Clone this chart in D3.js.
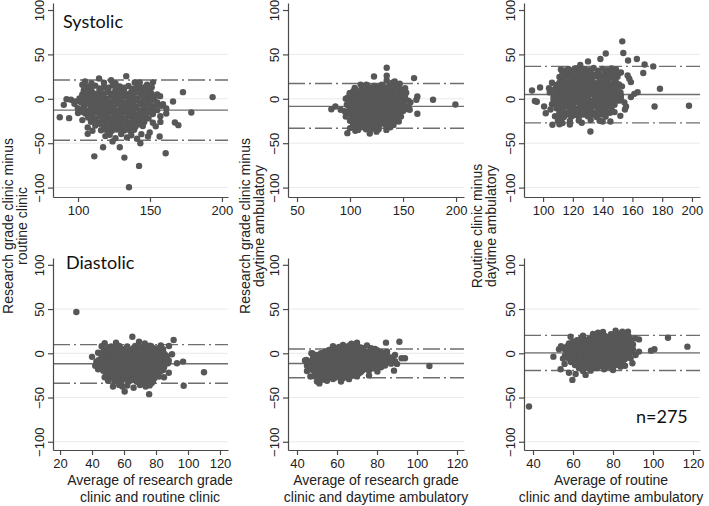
<!DOCTYPE html>
<html><head><meta charset="utf-8">
<script src="https://cdn.jsdelivr.net/npm/d3@7"></script>
<style>body{margin:0;background:#fff}svg{display:block}</style>
</head><body>
<svg id="c" width="709" height="506"></svg>
<script>
// ---------- DATA ----------
const yTicks = [-100, -50, 0, 50, 100];
const gridTicks = [-100, -50, 0, 50];
const xTicksSysRC = [100, 150, 200];
const xTicksSysRD = [50, 100, 150, 200];
const xTicksSysRoD = [100, 120, 140, 160, 180, 200];
const xTicksDiaRC = [20, 40, 60, 80, 100, 120];
const xTicksDiaRD = [40, 60, 80, 100, 120];
const xTicksDiaRoD = [40, 60, 80, 100, 120];

// [mean difference, lower limit, upper limit]
const statsSysRC = [-12.8, -46.6, 21.1];
const statsSysRD = [-8.5, -33.2, 17.3];
const statsSysRoD = [4.8, -27.1, 36.5];
const statsDiaRC = [-11.8, -33.8, 9.8];
const statsDiaRD = [-11.5, -27.6, 4.9];
const statsDiaRoD = [0.5, -19.5, 20.3];

const panelLabels = ["Systolic", "Diastolic"];
const nLabel = "n=275";
const yTitles = [["Research grade clinic minus", "routine clinic"],
                 ["Research grade clinic minus", "daytime ambulatory"],
                 ["Routine clinic minus", "daytime ambulatory"]];
const xTitles = [["Average of research grade", "clinic and routine clinic"],
                 ["Average of research grade", "clinic and daytime ambulatory"],
                 ["Average of routine", "clinic and daytime ambulatory"]];

// points [average, difference]
const sysRC = [
[133.5,25.5],[114.6,22.9],[172.9,7.5],[193.5,1.9],[166,-3],[178.7,-15.4],[87.3,-20.7],[93.8,-21.8],[90.1,-6.8],[92,-0.4],
[167.3,-26.7],[169.7,-29.7],[160.9,-61.3],[156.7,-42.5],[142.4,-75.6],[135.4,-99.7],[132.2,-66.2],[111.3,-64.8],[117.4,-54.5],[129,-54.5],
[143.3,-50],[124,-48],[106.7,-39.5],[106.7,-32.4],[116,-35.5],[152.1,18.8],[139.4,18.4],[142.9,18.4],[151.2,13],[103,15.8],
[109.3,17.6],[161.3,-10.9],[161.3,-16.5],[157.2,-19.7],[157.2,-26],[152,-27],[149.8,-38],[148.6,-42.5],[136.2,-36],[123.5,-36],
[95.1,-1.1],[97.5,-5.6],[99.8,-10.5],[123,21],[130,12],
[104.9,19.6],[118,18],[126,17.5],[148,16],[157,3],[159,-6],[100,-16],[98,-3],[103,-24],[154,-31],[119,-42],[141,-45],[110,-36],
[106,13.5],[112,14.8],[118,13],[124,15.2],[129,13.8],[135,14.5],[141,12.8],[147,13.6],
[104,9.5],[109,10.8],[115,9.2],[121,10.4],[126,9.6],[132,11],[138,9.8],[144,10.2],[150,9.1],
[103,5],[107,6.2],[112,5.1],[118,6],[123,5.4],[128,6.5],[134,5.2],[139,5.9],[145,4.8],[151,6.1],[155,5],
[101,0.5],[105,1.6],[110,0.8],[115,1.4],[120,0.2],[125,1.8],[130,0.6],[136,1.2],[141,0.4],[147,1.5],[153,0.9],
[102,-3.8],[107,-2.9],[112,-4.1],[117,-3.2],[122,-3.9],[127,-2.8],[133,-4.2],[138,-3.3],[144,-3.7],[149,-2.6],[155,-4],
[104,-7.6],[109,-8.4],[114,-7.3],[119,-8.6],[124,-7.8],[130,-8.2],[135,-7.5],[140,-8.8],[146,-7.7],[152,-8.3],[158,-7.9],
[102,-12.2],[107,-13],[112,-12.1],[117,-12.9],[122,-12.4],[127,-13.2],[132,-12],[137,-12.7],[143,-13.1],[149,-12.3],[155,-12.8],
[105,-16.6],[110,-17.4],[115,-16.8],[120,-17.6],[125,-16.5],[130,-17.2],[135,-16.9],[141,-17.5],[147,-16.7],[152,-17.1],
[107,-21.2],[112,-22],[117,-21.3],[122,-21.9],[128,-21.1],[133,-22.2],[138,-21.6],[144,-21.4],[149,-22.1],
[109,-25.8],[114,-26.5],[119,-25.6],[125,-26.3],[130,-25.9],[136,-26.7],[141,-25.7],[146,-26.2],
[112,-30.2],[118,-31],[124,-30.4],[129,-30.9],[134,-30.1],[140,-31.2],[145,-30.6],
[120,-35.3],[127,-34.6],[132,-35.8],[139,-34.9],
[122,-40.5],[130,-39.6],[137,-41],[144,-39.8],
[126,-44.3],[134,-43.6],
[109,12.2],[115,11.6],[121,12.4],[127,11.8],[132,12.6],[138,11.5],[144,12.1],
[106,7.8],[110,7.2],[115,7.9],[121,7.3],[126,8],[131,7.1],[137,7.7],[142,7.4],[148,7.9],
[103,3.2],[108,2.6],[113,3.4],[117,2.8],[123,3.3],[128,2.5],[133,3.1],[138,2.7],[144,3.5],[150,2.9],
[104,-1.2],[109,-1.8],[114,-1.1],[119,-1.7],[125,-1.3],[130,-2],[135,-1.4],[141,-1.9],[146,-1.2],[151,-1.6],
[106,-5.7],[111,-6.3],[116,-5.8],[121,-6.2],[127,-5.6],[132,-6.4],[138,-5.9],[143,-6.1],[149,-5.5],[155,-6.2],
[104,-10.2],[110,-10.8],[115,-10.3],[120,-10.9],[125,-10.1],[130,-10.7],[135,-10.4],[140,-10.9],[146,-10.2],[152,-10.6],
[103,-14.7],[108,-15.3],[113,-14.8],[118,-15.2],[123,-14.6],[128,-15.4],[133,-14.9],[138,-15.1],[144,-14.5],[150,-15.2],
[109,-19.2],[115,-19.8],[120,-19.3],[125,-19.9],[130,-19.1],[135,-19.7],[141,-19.4],[146,-19.8],
[111,-23.7],[117,-24.3],[122,-23.8],[128,-24.2],[133,-23.6],[139,-24.4],[144,-23.9],
[115,-28.2],[121,-28.8],[127,-28.3],[132,-28.7],[137,-28.1],[143,-28.6],
[123,-32.7],[130,-33.3],[136,-32.8]
];

const sysRD = [
[134.6,35],[134.6,26],[122.6,25.2],[160.4,23.3],[134.6,20.7],[115.4,15.8],[104.4,12.1],[82.4,-11.7],[86.2,-8.7],[91.2,-12.4],
[178.3,-1.1],[199.4,-6.5],[163.5,2.6],[162.6,-1.1],[163.5,-16.9],[155.3,-8.7],[156.3,-12.4],[151.8,2.6],[152.4,-1.1],[97.5,-38.7],
[118.6,-39],[107.6,-35],[102.9,-29.3],[134.3,-35],[146,-25.6],[99.7,-8.7],[99.7,6.3],[142.2,19.5],[146.9,16.9],[128.7,14.5],
[96,0],[95,-14],[96,-20],[100,-33],[138,-32],[148,-20],[152,12],[110,16],[140,18],[157,-4],[105,-36],[125,-37],
[116,15.3],[123,14.6],[130,15.8],[137,14.9],[144,15.4],
[105,10.6],[111,11.5],[117,10.8],[123,11.3],[129,10.5],[135,11.6],[141,10.9],[147,11.2],
[100,6.2],[106,7],[112,6.1],[118,6.8],[124,6.3],[130,7.1],[136,6],[142,6.7],[148,6.4],[153,6.9],
[98,1.6],[104,2.5],[110,1.8],[116,2.3],[122,1.5],[128,2.4],[134,1.7],[140,2.6],[146,1.9],[151,2.2],
[101,-2.2],[107,-3],[113,-2.3],[119,-2.9],[125,-2.1],[131,-2.8],[137,-2.4],[143,-3.1],[149,-2.6],[155,-2],
[97,-6.7],[103,-7.4],[109,-6.8],[115,-7.2],[121,-6.6],[127,-7.5],[133,-6.9],[139,-7.3],[145,-6.5],[151,-7.1],
[100,-11.1],[106,-11.9],[112,-11.3],[118,-11.8],[124,-11.2],[130,-12],[136,-11.4],[142,-11.7],[148,-11],[154,-11.6],
[99,-15.7],[105,-16.4],[111,-15.8],[117,-16.3],[123,-15.6],[129,-16.5],[135,-15.9],[141,-16.2],[147,-15.5],
[102,-20.2],[108,-20.9],[114,-20.3],[120,-20.8],[126,-20.1],[132,-21],[138,-20.4],[144,-20.6],
[100,-24.7],[106,-25.4],[112,-24.8],[118,-25.3],[124,-24.6],[130,-25.5],[136,-24.9],[143,-25.2],
[104,-29.2],[110,-30],[116,-29.3],[122,-29.8],[128,-29.1],[134,-30.1],[141,-29.4],
[108,-33.7],[115,-34.4],[121,-33.8],[127,-34.2],
[113,13.2],[120,12.7],[127,13.4],[133,12.8],[140,13.3],
[103,8.7],[109,8.2],[115,8.9],[121,8.3],[127,8.8],[133,8.1],[139,8.6],[145,8.3],[150,8.8],
[101,4.2],[107,3.7],[113,4.3],[119,3.8],[125,4.4],[131,3.6],[137,4.1],[143,3.9],[149,4.3],
[104,-0.3],[110,-0.9],[116,-0.4],[122,-0.8],[128,-0.2],[134,-1],[140,-0.5],[146,-0.7],[152,-0.2],
[100,-4.8],[106,-5.3],[112,-4.7],[118,-5.2],[124,-4.9],[130,-5.4],[136,-4.8],[142,-5.1],[148,-4.6],
[103,-9.3],[109,-9.8],[115,-9.2],[121,-9.7],[127,-9.4],[133,-9.9],[139,-9.3],[145,-9.6],[151,-9.1],
[102,-13.8],[108,-14.3],[114,-13.7],[120,-14.2],[126,-13.9],[132,-14.4],[138,-13.8],[144,-14.1],[150,-13.6],
[105,-18.3],[111,-18.8],[117,-18.2],[123,-18.7],[129,-18.4],[135,-18.9],[141,-18.3],
[103,-22.8],[109,-23.3],[115,-22.7],[121,-23.2],[127,-22.9],[133,-23.4],[140,-22.8],
[107,-27.3],[113,-27.8],[119,-27.2],[125,-27.7],[131,-27.4],[138,-27.9],
[112,-31.8],[118,-32.3],[124,-31.7]
];

const sysRoD = [
[153.2,64.7],[153.9,51.6],[142.1,51],[138.5,44.8],[130.2,42.1],[157.1,43.1],[163,44.8],[168.2,38.7],[174,36.5],[167.3,29],
[178.5,11.3],[174.9,-8.7],[198,-7.9],[92.6,9.4],[98,12.8],[95.8,-3.3],[94.5,-2.5],[100.7,-8.7],[101.8,-16.2],[106.3,-29.3],
[104,12],[104.5,7.2],[110.7,9.4],[108.5,1.1],[107,-1.1],[131.8,-36.9],[140,-25.6],[145.2,-25.6],[151.9,-19.2],[154.6,-4],
[155.7,-8.7],[152.3,3.4],[152.3,-0.4],[159,1.9],[161.3,5.6],[163.5,7.5],[156.8,26.3],[157.9,22.6],[159,18.8],[152.3,29.7],
[106,18],[105,-12],[110,-25],[118,-29],[126,-27],[132,-24],[148,-15],[153,14],[149,33],[125,38],[112,33],[155,-12],
[117,33.6],[122,34.5],[128,33.2],[134,34.8],[140,33.9],[146,34.2],
[113,29.1],[118,30],[123,29.3],[127,29.9],[132,29],[137,30.2],[142,29.4],[147,29.8],[151,29.2],
[111,24.6],[116,25.4],[121,24.8],[126,25.3],[131,24.5],[136,25.5],[141,24.9],[145,25.2],[150,24.7],
[114,20.2],[119,21],[124,20.3],[128,20.9],[133,20.1],[138,21.1],[143,20.4],[148,20.8],
[109,15.6],[113,16.4],[118,15.8],[122,16.3],[127,15.5],[132,16.5],[137,15.9],[142,16.2],[146,15.7],[151,16.1],
[108,11.2],[112,11.9],[117,11.3],[121,11.8],[126,11.1],[131,12],[135,11.4],[140,11.7],[145,11],[149,11.6],
[110,6.7],[115,7.4],[119,6.8],[124,7.3],[129,6.6],[134,7.5],[138,6.9],[143,7.2],[148,6.5],[152,7.1],
[107,2.2],[111,2.9],[116,2.3],[121,2.8],[125,2.1],[130,3],[135,2.4],[140,2.7],[144,2],[149,2.6],
[109,-1.7],[114,-2.4],[118,-1.8],[123,-2.3],[128,-1.6],[133,-2.5],[137,-1.9],[142,-2.2],[147,-1.5],[151,-2.1],
[106,-6.2],[111,-6.9],[116,-6.3],[120,-6.8],[125,-6.1],[130,-7],[134,-6.4],[139,-6.7],[144,-6],[148,-6.6],
[109,-10.7],[113,-11.4],[118,-10.8],[123,-11.3],[127,-10.6],[132,-11.5],[137,-10.9],[141,-11.2],[146,-10.5],
[111,-15.2],[116,-15.9],[120,-15.3],[125,-15.8],[130,-15.1],[135,-16],[140,-15.4],[145,-15.7],
[108,-19.7],[114,-20.4],[119,-19.8],[124,-20.3],[130,-19.6],[136,-20.5],[142,-19.9],
[112,-24.2],[118,-24.9],[124,-24.3],[138,-24.8],
[111,-28.8],[113,-27.2],
[115,31.8],[120,32.3],[125,31.7],[131,32.2],[137,31.6],[143,32.1],
[114,27.2],[119,26.7],[124,27.3],[129,26.8],[134,27.4],[139,26.6],[144,27.1],[148,26.9],
[113,22.8],[118,23.3],[123,22.7],[128,23.2],[133,22.9],[138,23.4],[143,22.8],[147,23.1],
[111,18.2],[116,17.7],[120,18.3],[125,17.8],[130,18.4],[135,17.6],[140,18.1],[144,17.9],[149,18.3],
[110,13.3],[115,13.8],[119,13.2],[124,13.7],[129,13.4],[133,13.9],[138,13.3],[143,13.6],[147,13.1],
[108,8.8],[113,9.3],[117,8.7],[122,9.2],[127,8.9],[131,9.4],[136,8.8],[141,9.1],[146,8.6],[150,9.2],
[109,4.3],[113,4.8],[118,4.2],[123,4.7],[128,4.4],[132,4.9],[137,4.3],[142,4.6],[146,4.1],
[108,-0.2],[112,0.3],[116,-0.3],[121,0.2],[126,-0.1],[130,0.4],[135,-0.2],[139,0.1],[144,-0.4],[149,0.2],
[108,-4.7],[113,-4.2],[118,-4.8],[122,-4.3],[127,-4.6],[132,-4.1],[136,-4.7],[141,-4.4],[146,-4.9],
[111,-9.2],[115,-8.7],[120,-9.3],[125,-8.8],[129,-9.1],[134,-8.6],[139,-9.2],[143,-8.9],
[113,-13.7],[118,-13.2],[122,-13.8],[127,-13.3],[132,-13.6],[137,-13.1],[142,-13.7],
[111,-18.2],[116,-17.7],[121,-18.3],[127,-17.8],[133,-18.1],[139,-17.6]
];

const diaRC = [
[30.2,46.6],[65.2,18.7],[91,15],[47.9,11.3],[69.4,13.2],[76.1,8.6],[80.6,5.6],[84.4,4.5],[88.1,8.3],[43.8,0.7],
[50,3.6],[42.7,-9.5],[43.8,-18.1],[47.9,-27],[53.1,-37.6],[60.4,-43.2],[75.7,-46.2],[58.9,-37.6],[73.5,-37.6],[77.1,-33.8],
[97.3,-36.7],[110,-21.4],[93.1,-11.3],[96.9,-9.4],[87.5,-11.3],[84.4,-18.8],[81.9,-26.3],[86.5,-3.8],
[46,8],[55,12],[73,11],[83,9],[40,-4],[42,-14],[88,-22],[85,-27],[66,-39],[50,-31],[90,-1],
[52,7.6],[57,8.4],[62,7.8],[67,8.3],[72,7.5],[77,8.1],
[48,3.7],[52,4.4],[56,3.8],[60,4.3],[64,3.6],[68,4.5],[72,3.9],[76,4.2],[80,3.5],[84,4.1],
[45,-0.3],[49,0.4],[53,-0.2],[57,0.3],[61,-0.4],[65,0.5],[69,-0.1],[73,0.2],[77,-0.5],[81,0.1],[85,-0.2],
[47,-3.7],[51,-4.4],[55,-3.8],[59,-4.3],[63,-3.6],[67,-4.5],[71,-3.9],[75,-4.2],[79,-3.5],[83,-4.1],[87,-3.6],
[44,-7.7],[48,-8.4],[52,-7.8],[56,-8.3],[60,-7.6],[64,-8.5],[68,-7.9],[72,-8.2],[76,-7.5],[80,-8.1],[84,-7.8],[88,-8.3],
[46,-11.7],[50,-12.4],[54,-11.8],[58,-12.3],[62,-11.6],[66,-12.5],[70,-11.9],[74,-12.2],[78,-11.5],[82,-12.1],[86,-11.8],
[45,-15.7],[49,-16.4],[53,-15.8],[57,-16.3],[61,-15.6],[65,-16.5],[69,-15.9],[73,-16.2],[77,-15.5],[81,-16.1],[85,-15.8],
[47,-19.7],[51,-20.4],[55,-19.8],[59,-20.3],[63,-19.6],[67,-20.5],[71,-19.9],[75,-20.2],[79,-19.5],[83,-20.1],
[49,-23.7],[53,-24.4],[57,-23.8],[61,-24.3],[65,-23.6],[69,-24.5],[73,-23.9],[77,-24.2],[81,-23.5],
[51,-27.7],[55,-28.4],[59,-27.8],[63,-28.3],[67,-27.6],[71,-28.5],[75,-27.9],[79,-28.2],
[54,-31.7],[58,-32.4],[63,-31.8],[68,-32.3],[73,-31.6],[78,-32.2],
[57,-35.7],[62,-36.4],[70,-35.8],[76,-36.3],
[50,5.8],[54,6.3],[58,5.7],[62,6.2],[66,5.9],[70,6.4],[74,5.8],[78,6.1],[82,5.6],
[47,1.8],[51,2.3],[55,1.7],[59,2.2],[63,1.9],[67,2.4],[71,1.8],[75,2.1],[79,1.6],[83,2.2],
[46,-2.2],[50,-1.7],[54,-2.3],[58,-1.8],[62,-2.1],[66,-1.6],[70,-2.2],[74,-1.9],[78,-2.4],[82,-1.8],[86,-2.1],
[46,-6.2],[50,-5.7],[54,-6.3],[58,-5.8],[62,-6.1],[66,-5.6],[70,-6.2],[74,-5.9],[78,-6.4],[82,-5.8],[86,-6.1],
[45,-10.2],[49,-9.7],[53,-10.3],[57,-9.8],[61,-10.1],[65,-9.6],[69,-10.2],[73,-9.9],[77,-10.4],[81,-9.8],[85,-10.1],
[48,-14.2],[52,-13.7],[56,-14.3],[60,-13.8],[64,-14.1],[68,-13.6],[72,-14.2],[76,-13.9],[80,-14.4],[84,-13.8],
[47,-18.2],[51,-17.7],[55,-18.3],[59,-17.8],[63,-18.1],[67,-17.6],[71,-18.2],[75,-17.9],[79,-18.4],[83,-17.8],
[50,-22.2],[54,-21.7],[58,-22.3],[62,-21.8],[66,-22.1],[70,-21.6],[74,-22.2],[78,-21.9],
[52,-26.2],[56,-25.7],[60,-26.3],[64,-25.8],[68,-26.1],[72,-25.6],[76,-26.2],[80,-25.9],
[56,-30.2],[61,-29.7],[65,-30.3],[70,-29.8],[75,-30.1]
];

const diaRD = [
[84.5,12],[91.2,13.1],[106.2,-14.3],[94,-5.6],[92.3,-5.6],[88.5,-19.6],[46.7,-26.3],[51.2,-34],[50,-32],[44,-8.2],
[44.7,-7.5],[47.8,-0.1],[47.2,0],[67.2,10.7],[72.2,6.2],[80.2,-20.7],[85,-9.4],[87.5,-7.5],[79.8,-9.4],[80.7,-13.1],
[58,8],[75,9],[79,5],[85,2],[89,-2],[45,-14],[45,-20],[55,-31],[62,-32],[76,-25],[90,-12],[70,12],
[63,9.3],[66,8.6],[69,9.4],
[58,5.2],[62,5.9],[65,5.1],[69,5.8],[73,5.3],[77,5.7],
[54,1.7],[57,2.4],[61,1.8],[64,2.3],[68,1.6],[71,2.5],[75,1.9],[78,2.2],[82,1.5],
[50,-1.8],[53,-1.1],[57,-1.7],[60,-1.2],[64,-1.9],[67,-1],[71,-1.6],[74,-1.3],[78,-2],[81,-1.4],[85,-1.7],
[48,-5.3],[52,-4.6],[55,-5.2],[59,-4.7],[62,-5.4],[66,-4.5],[69,-5.1],[73,-4.8],[76,-5.5],[80,-4.9],[83,-5.2],[87,-4.7],
[47,-8.8],[50,-8.1],[54,-8.7],[57,-8.2],[61,-8.9],[64,-8],[68,-8.6],[71,-8.3],[75,-9],[78,-8.4],[82,-8.7],[85,-8.2],[89,-8.8],
[48,-12.3],[52,-11.6],[55,-12.2],[59,-11.7],[62,-12.4],[66,-11.5],[69,-12.1],[73,-11.8],[76,-12.5],[80,-11.9],[83,-12.2],[87,-11.7],
[47,-15.8],[50,-15.1],[54,-15.7],[57,-15.2],[61,-15.9],[64,-15],[68,-15.6],[71,-15.3],[75,-16],[78,-15.4],[82,-15.7],
[48,-19.3],[52,-18.6],[55,-19.2],[59,-18.7],[62,-19.4],[66,-18.5],[69,-19.1],[73,-18.8],[76,-19.5],
[50,-22.8],[53,-22.1],[57,-22.7],[60,-22.2],[64,-22.9],[68,-22],[71,-22.6],
[49,-26.3],[52,-25.6],[56,-26.2],[60,-25.7],[63,-26.4],[67,-25.5],[70,-26.1],
[53,-29.8],[58,-29.1],[62,-29.7],[66,-29.2],
[61,7.2],[64,6.8],[67,7.3],[71,6.9],
[56,3.7],[60,3.2],[63,3.8],[67,3.3],[70,3.6],[73,3.1],[77,3.7],[80,3.4],
[52,0.2],[55,-0.3],[59,0.3],[62,-0.2],[66,0.1],[69,-0.4],[73,0.2],[76,-0.1],[80,0.4],[83,-0.2],
[50,-3.3],[53,-3.8],[57,-3.2],[60,-3.7],[64,-3.4],[67,-3.9],[71,-3.3],[74,-3.6],[78,-3.1],[81,-3.7],[85,-3.4],
[49,-6.8],[52,-7.3],[56,-6.7],[59,-7.2],[63,-6.9],[66,-7.4],[70,-6.8],[73,-7.1],[77,-6.6],[80,-7.2],[84,-6.9],[87,-7.3],
[49,-10.3],[53,-10.8],[56,-10.2],[60,-10.7],[63,-10.4],[67,-10.9],[70,-10.3],[74,-10.6],[77,-10.1],[81,-10.7],[84,-10.4],
[49,-13.8],[52,-14.3],[56,-13.7],[59,-14.2],[63,-13.9],[66,-14.4],[70,-13.8],[73,-14.1],[77,-13.6],[80,-14.2],[84,-13.9],
[50,-17.3],[53,-17.8],[57,-17.2],[60,-17.7],[64,-17.4],[67,-17.9],[71,-17.3],[74,-17.6],[78,-17.1],
[49,-20.8],[52,-21.3],[55,-20.7],[59,-21.2],[62,-20.9],[66,-21.4],[69,-20.8],[72,-21.1],
[51,-24.3],[54,-24.8],[58,-24.2],[62,-24.7],[65,-24.4],[68,-24.9],
[51,-27.8],[55,-28.3],[59,-27.7],[63,-28.2]
];

const diaRoD = [
[38,-60.2],[107.5,17.6],[117.2,7.5],[100.7,4.5],[99,3],[93,15.7],[50.2,-3.8],[53,4.5],[58.8,18.8],[72.5,23.3],
[81.3,25.6],[84.7,24.4],[87.5,24.4],[59.7,-30.1],[61.3,-23.4],[66.3,-24.4],[53.8,-18],[55.8,-12],[89.7,-11.3],[88.8,-5.6],
[91.3,-1.9],[93,1.9],[83.8,-15.1],[75.5,-18],[68.8,-19.6],
[54,8],[55,-6],[58,-22],[65,-20],[72,-17],[80,-19],[86,-14],[90,10],[91,17],[65,20],[70,22],[75,24],
[79,21.7],[83,22.4],[87,21.5],
[70,18.2],[74,18.9],[77,18.1],[81,18.8],[84,18.3],[88,18.7],
[62,14.7],[66,15.4],[69,14.8],[73,15.3],[76,14.6],[80,15.5],[83,14.9],[87,15.2],
[58,11.2],[61,11.9],[65,11.3],[68,11.8],[72,11.1],[75,12],[79,11.4],[82,11.7],[86,11],[89,11.6],
[57,7.7],[60,8.4],[64,7.8],[67,8.3],[71,7.6],[74,8.5],[78,7.9],[81,8.2],[85,7.5],[88,8.1],
[56,4.2],[59,4.9],[63,4.3],[66,4.8],[70,4.1],[73,5],[77,4.4],[80,4.7],[84,4],[87,4.6],[90,4.3],
[57,0.7],[61,1.4],[64,0.8],[68,1.3],[71,0.6],[75,1.5],[78,0.9],[82,1.2],[85,0.5],[89,1.1],
[56,-2.8],[59,-2.1],[63,-2.7],[66,-2.2],[70,-2.9],[73,-2],[77,-2.6],[80,-2.3],[84,-3],[87,-2.4],
[58,-6.3],[61,-5.6],[65,-6.2],[68,-5.7],[72,-6.4],[75,-5.5],[79,-6.1],[82,-5.8],[86,-6.5],
[59,-9.8],[63,-9.1],[66,-9.7],[70,-9.2],[73,-9.9],[77,-9],[80,-9.6],[84,-9.3],
[61,-13.3],[65,-12.6],[68,-13.2],[72,-12.7],[75,-13.4],[79,-12.5],[82,-13.1],
[63,-16.8],[67,-16.1],[71,-16.7],[76,-16.2],[80,-16.9],
[72,20.2],[76,19.7],[79,20.3],[82,19.8],[86,20.1],
[64,16.7],[68,16.2],[71,16.8],[75,16.3],[78,16.6],[82,16.1],[85,16.7],[88,16.4],
[60,13.2],[63,12.7],[67,13.3],[70,12.8],[74,13.1],[77,12.6],[81,13.2],[84,12.9],[87,13.4],
[59,9.7],[62,9.2],[66,9.8],[69,9.3],[73,9.6],[76,9.1],[80,9.7],[83,9.4],[87,9.9],
[57,6.2],[61,5.7],[65,6.3],[68,5.8],[72,6.1],[75,5.6],[79,6.2],[82,5.9],[86,6.4],[89,5.8],
[58,2.7],[62,2.2],[66,2.8],[69,2.3],[72,2.6],[76,2.1],[79,2.7],[83,2.4],[86,2.9],[89,2.3],
[57,-0.8],[60,-1.3],[64,-0.7],[67,-1.2],[71,-0.9],[74,-1.4],[78,-0.8],[81,-1.1],[85,-0.6],[88,-1.2],
[57,-4.3],[60,-4.8],[64,-4.2],[67,-4.7],[71,-4.4],[74,-4.9],[78,-4.3],[81,-4.6],[85,-4.1],
[60,-7.8],[64,-8.3],[67,-7.7],[71,-8.2],[74,-7.9],[78,-8.4],[81,-7.8],[85,-8.1],
[62,-11.3],[66,-11.8],[69,-11.2],[73,-11.7],[76,-11.4],[80,-11.9],[83,-11.3],
[64,-14.8],[69,-15.3],[73,-14.7],[78,-15.2]
];

// ---------- LAYOUT ----------
const rows = [
  {top: 3, bottom: 197, dom: [-110.6, 107.9]},
  {top: 258, bottom: 450, dom: [-109.3, 107.7]}
];
const panels = [
  {pts: sysRC, st: statsSysRC, xt: xTicksSysRC, dom: [82.6, 204.2], x0: 53, x1: 228, row: 0, col: 0},
  {pts: sysRD, st: statsSysRD, xt: xTicksSysRD, dom: [41.5, 207.5], x0: 288, x1: 464, row: 0, col: 1},
  {pts: sysRoD, st: statsSysRoD, xt: xTicksSysRoD, dom: [87.2, 205.4], x0: 524, x1: 700, row: 0, col: 2},
  {pts: diaRC, st: statsDiaRC, xt: xTicksDiaRC, dom: [15.6, 125], x0: 53, x1: 228, row: 1, col: 0, tc: 150},
  {pts: diaRD, st: statsDiaRD, xt: xTicksDiaRD, dom: [35.5, 123.5], x0: 288, x1: 464, row: 1, col: 1, tc: 376},
  {pts: diaRoD, st: statsDiaRoD, xt: xTicksDiaRoD, dom: [35.5, 123.5], x0: 524, x1: 700, row: 1, col: 2, tc: 611}
];

const svg = d3.select('#c');
const tickFont = 'Arial, "Liberation Sans", sans-serif';
const fmt = d => d < 0 ? '\u2212' + Math.abs(d) : String(d);
const axisCol = '#4a4a4a';
const lineCol = '#6e6e6e';
const dotCol = '#575757';

panels.forEach(p => {
  const r = rows[p.row];
  const x = d3.scaleLinear().domain(p.dom).range([p.x0, p.x1]);
  const y = d3.scaleLinear().domain(r.dom).range([r.bottom, r.top]);
  const g = svg.append('g');

  g.selectAll('line.grid').data(gridTicks).join('line')
    .attr('x1', p.x0).attr('x2', p.x1)
    .attr('y1', d => y(d)).attr('y2', d => y(d))
    .attr('stroke', '#e9e9e9').attr('stroke-width', 1);

  const [m, lo, hi] = p.st;
  g.append('line').attr('x1', p.x0).attr('x2', p.x1).attr('y1', y(m)).attr('y2', y(m))
    .attr('stroke', lineCol).attr('stroke-width', 1.4);
  [lo, hi].forEach(v => {
    g.append('line').attr('x1', p.x0).attr('x2', p.x1).attr('y1', y(v)).attr('y2', y(v))
      .attr('stroke', lineCol).attr('stroke-width', 1.4)
      .attr('stroke-dasharray', '17,4,2,4');
  });

  g.selectAll('circle').data(p.pts).join('circle')
    .attr('cx', d => x(d[0])).attr('cy', d => y(d[1])).attr('r', 3.2)
    .attr('fill', dotCol);

  const ya = g.append('g').attr('transform', `translate(${p.x0},0)`)
    .call(d3.axisLeft(y).tickValues(yTicks).tickSize(5).tickSizeOuter(0).tickFormat(fmt));
  ya.select('.domain').attr('stroke', axisCol).attr('stroke-width', 1.2);
  ya.selectAll('.tick line').attr('stroke', axisCol).attr('stroke-width', 1.2);
  ya.selectAll('.tick text')
    .attr('transform', 'rotate(-90)').attr('x', 0).attr('y', -9.5).attr('dy', 0)
    .style('text-anchor', 'middle').style('font-family', tickFont).style('font-size', '13px')
    .attr('fill', '#222');

  const xa = g.append('g').attr('transform', `translate(0,${r.bottom})`)
    .call(d3.axisBottom(x).tickValues(p.xt).tickSize(5).tickSizeOuter(0).tickFormat(fmt));
  xa.select('.domain').attr('stroke', axisCol).attr('stroke-width', 1.2);
  xa.selectAll('.tick line').attr('stroke', axisCol).attr('stroke-width', 1.2);
  xa.selectAll('.tick text').attr('y', 6).attr('dy', '0.95em')
    .style('font-family', tickFont).style('font-size', '13px').attr('fill', '#222');

  if (p.row === 1) {
    const t = xTitles[p.col];
    [0, 1].forEach(i => {
      svg.append('text').attr('x', p.tc).attr('y', 485 + i * 16.5)
        .attr('text-anchor', 'middle').style('font-family', tickFont).style('font-size', '14px')
        .attr('fill', '#222').text(t[i]);
    });
  }
});

const yTitleX = [[13, 27], [250, 264], [482, 496]];
yTitles.forEach((t, c) => {
  t.forEach((s, i) => {
    svg.append('text')
      .attr('transform', `translate(${yTitleX[c][i]},226) rotate(-90)`)
      .attr('text-anchor', 'middle').style('font-family', tickFont).style('font-size', '14px')
      .attr('fill', '#222').text(s);
  });
});

const labFont = 'Lato, "Open Sans", sans-serif';
svg.append('text').attr('x', 63).attr('y', 28).style('font-family', labFont).style('font-size', '18px')
  .attr('fill', '#111').text(panelLabels[0]);
svg.append('text').attr('x', 66).attr('y', 269).style('font-family', labFont).style('font-size', '18px')
  .attr('fill', '#111').text(panelLabels[1]);
svg.append('text').attr('x', 636).attr('y', 423).style('font-family', labFont).style('font-size', '18px')
  .attr('fill', '#111').text(nLabel);
</script>
</body></html>
